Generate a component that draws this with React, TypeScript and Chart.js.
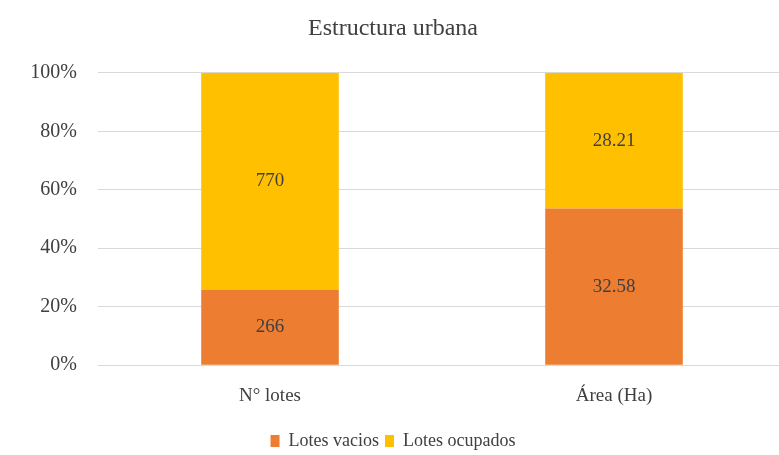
import React, { useEffect, useRef } from "react";
import { Chart, registerables } from "chart.js";

Chart.register(...registerables);

const categories = ["N° lotes", "Área (Ha)"];
const seriesNames = ["Lotes vacios", "Lotes ocupados"];
const lotesVacios = [266, 32.58];
const lotesOcupados = [770, 28.21];
const seriesColors = ["#ED7D31", "#FFC000"];
const yTicks = [0, 20, 40, 60, 80, 100];

const FONT = "'Liberation Serif', 'DejaVu Serif', serif";
const TEXT = "#404040";

const valueLabels = {
  id: "valueLabels",
  afterDatasetsDraw(chart: any) {
    const ctx = chart.ctx;
    ctx.save();
    ctx.font = `19px ${FONT}`;
    ctx.fillStyle = TEXT;
    ctx.textAlign = "center";
    ctx.textBaseline = "middle";
    chart.data.datasets.forEach((ds: any, di: number) => {
      const meta = chart.getDatasetMeta(di);
      meta.data.forEach((el: any, i: number) => {
        const raw = ds.rawValues[i];
        const y = (el.y + el.base) / 2;
        ctx.fillText(String(raw), el.x, y);
      });
    });
    ctx.restore();
  },
};

export default function App() {
  const ref = useRef<HTMLCanvasElement>(null);
  useEffect(() => {
    const totals = categories.map((_, i) => lotesVacios[i] + lotesOcupados[i]);
    const raws = [lotesVacios, lotesOcupados];
    const chart = new Chart(ref.current!, {
      type: "bar",
      data: {
        labels: categories,
        datasets: raws.map((arr, k) => ({
          label: seriesNames[k],
          data: arr.map((v, i) => (v / totals[i]) * 100),
          rawValues: arr,
          backgroundColor: seriesColors[k],
          borderWidth: 0,
          barPercentage: 0.4,
          categoryPercentage: 1,
        })) as any,
      },
      options: {
        animation: false,
        responsive: false,
        maintainAspectRatio: false,
        layout: { padding: { left: 0, right: 34, top: 0, bottom: -5 } },
        plugins: {
          title: {
            display: true,
            text: "Estructura urbana",
            color: TEXT,
            font: { family: FONT, size: 24, weight: "normal" },
            padding: { top: 14, bottom: 30 },
          },
          legend: {
            position: "bottom",
            labels: {
              color: TEXT,
              font: { family: FONT, size: 18 },
              boxWidth: 9,
              boxHeight: 12,
              padding: 6,
            },
          },
          tooltip: { enabled: false },
        },
        scales: {
          x: {
            stacked: true,
            grid: { display: false, drawTicks: false },
            border: { display: false },
            ticks: { color: TEXT, font: { family: FONT, size: 19 }, padding: 19 },
          },
          y: {
            stacked: true,
            min: 0,
            max: 100,
            afterFit: (s: any) => {
              s.width = 98;
            },
            afterBuildTicks: (s: any) => {
              s.ticks = yTicks.map((v) => ({ value: v }));
            },
            grid: { color: "#D9D9D9", lineWidth: 1, drawTicks: false },
            border: { display: false },
            ticks: {
              color: TEXT,
              font: { family: FONT, size: 20 },
              padding: 21,
              callback: (v: any) => v + "%",
            },
          },
        },
      },
      plugins: [valueLabels],
    });
    return () => chart.destroy();
  }, []);
  return (
    <div style={{ position: "fixed", left: 0, top: 0, width: 820, height: 455, background: "#fff" }}>
      <canvas ref={ref} width={820} height={455} />
    </div>
  );
}
